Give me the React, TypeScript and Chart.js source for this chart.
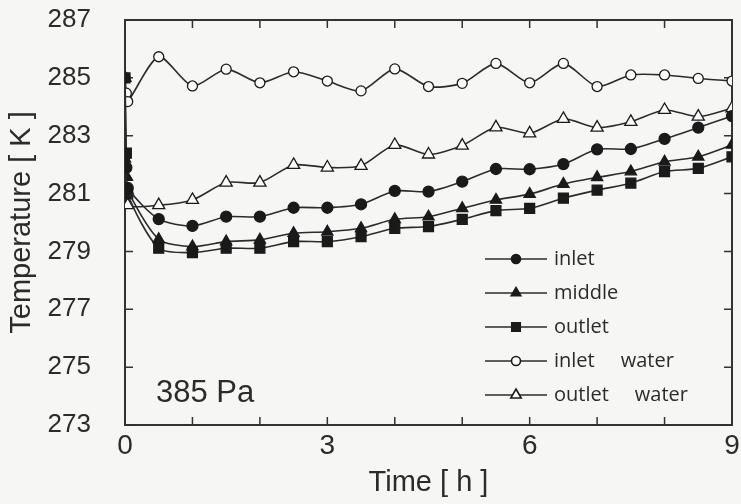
import React, { useEffect, useRef } from 'react';
import { Chart, registerables } from 'chart.js';
import { drawPoint } from 'chart.js/helpers';

Chart.register(...registerables);

// time axis [h]
const times = [0.5, 1.0, 1.5, 2.0, 2.5, 3.0, 3.5, 4.0, 4.5, 5.0, 5.5, 6.0, 6.5, 7.0, 7.5, 8.0, 8.5, 9.0];
const startTimes = [0, 0.02, 0.04];

// temperatures [K]
const inletStart = [282.3, 281.9, 281.2];
const inletValues = [280.12, 279.88, 280.2, 280.2, 280.51, 280.51, 280.63, 281.09, 281.07, 281.41, 281.85, 281.84, 282.02, 282.53, 282.54, 282.89, 283.28, 283.68];

const middleStart = [282.2, 281.6, 281.1];
const middleValues = [279.42, 279.17, 279.34, 279.4, 279.63, 279.68, 279.8, 280.11, 280.2, 280.49, 280.78, 280.98, 281.33, 281.56, 281.76, 282.1, 282.27, 282.68];

const outletStart = [285.0, 282.4, 281.0];
const outletValues = [279.11, 278.96, 279.11, 279.11, 279.34, 279.34, 279.51, 279.8, 279.86, 280.11, 280.41, 280.49, 280.84, 281.12, 281.36, 281.76, 281.87, 282.27];

const inletWaterStart = [285.0, 284.47, 284.18];
const inletWaterValues = [285.73, 284.72, 285.3, 284.83, 285.21, 284.89, 284.55, 285.31, 284.7, 284.81, 285.5, 284.83, 285.5, 284.7, 285.1, 285.1, 284.98, 284.89];

const outletWaterStart = [285.0, 281.58, 280.6];
const outletWaterValues = [280.6, 280.78, 281.38, 281.38, 281.99, 281.9, 281.96, 282.68, 282.35, 282.66, 283.29, 283.08, 283.58, 283.28, 283.48, 283.89, 283.66, 283.95];

const seriesLabels = ['inlet', 'middle', 'outlet', 'inlet     water', 'outlet     water'];
const xTickLabels = [0, 3, 6, 9];
const yTickLabels = [273, 275, 277, 279, 281, 283, 285, 287];
const annotationText = '385 Pa';

const FONT = '"Liberation Sans", Arial, sans-serif';
const LEGEND_FONT = '"Open Sans", "DejaVu Sans", sans-serif';
const INK = '#2b2b2b';
const TICK_LEN = 8;

function toPoints(start: number[], values: number[]) {
  return [
    ...startTimes.map((t, i) => ({ x: t, y: start[i] })),
    ...times.map((t, i) => ({ x: t, y: values[i] })),
  ];
}

type Marker = { style: any; radius: number; fill: string; legendRadius: number };
const markers: Marker[] = [
  { style: 'circle', radius: 5.5, fill: '#1a1a1a', legendRadius: 4.5 },
  { style: 'triangle', radius: 6.5, fill: '#1a1a1a', legendRadius: 5.5 },
  { style: 'rect', radius: 7, fill: '#1a1a1a', legendRadius: 6 },
  { style: 'circle', radius: 5, fill: '#fbfbfb', legendRadius: 4.5 },
  { style: 'triangle', radius: 7, fill: '#fbfbfb', legendRadius: 6 },
];

function makeIcon(m: Marker) {
  const c = document.createElement('canvas');
  c.width = 62;
  c.height = 18;
  const ctx = c.getContext('2d')!;
  ctx.strokeStyle = INK;
  ctx.lineWidth = 1.6;
  ctx.beginPath();
  ctx.moveTo(0, 9);
  ctx.lineTo(62, 9);
  ctx.stroke();
  ctx.fillStyle = m.fill;
  ctx.strokeStyle = '#1a1a1a';
  drawPoint(ctx, { pointStyle: m.style, rotation: 0, radius: m.legendRadius, borderWidth: 1.3 }, 31, 9);
  return c;
}

export default function App() {
  const ref = useRef<HTMLCanvasElement>(null);

  useEffect(() => {
    if (!ref.current) return;
    const allSeries = [
      toPoints(inletStart, inletValues),
      toPoints(middleStart, middleValues),
      toPoints(outletStart, outletValues),
      toPoints(inletWaterStart, inletWaterValues),
      toPoints(outletWaterStart, outletWaterValues),
    ];
    const icons = markers.map(makeIcon);

    const datasets = allSeries.map((data, i) => ({
      label: seriesLabels[i],
      data,
      borderColor: INK,
      borderWidth: 1.6,
      tension: 0.25,
      pointStyle: markers[i].style,
      pointRadius: markers[i].radius,
      pointBackgroundColor: markers[i].fill,
      pointBorderColor: '#1a1a1a',
      pointBorderWidth: 1.3,
      fill: false,
    }));

    const legendPlacer = {
      id: 'legendPlacer',
      afterLayout(chart: any) {
        const lg = chart.legend;
        if (!lg) return;
        lg.left = 474;
        lg.top = 235;
        lg.bottom = 445;
        lg.right = 741;
      },
    };

    // inward tick marks on all four sides, placed by the scales themselves
    const tickMarks = {
      id: 'tickMarks',
      beforeDatasetsDraw(chart: any) {
        const { ctx, chartArea: a } = chart;
        ctx.save();
        ctx.strokeStyle = '#333';
        ctx.lineWidth = 1.5;
        ctx.beginPath();
        const side = (id: string, fn: (p: number) => void) => {
          const s = chart.scales[id];
          if (!s) return;
          s.ticks.forEach((t: any) => fn(s.getPixelForValue(t.value)));
        };
        side('x', (p) => { ctx.moveTo(p, a.bottom); ctx.lineTo(p, a.bottom - TICK_LEN); });
        side('x2', (p) => { ctx.moveTo(p, a.top); ctx.lineTo(p, a.top + TICK_LEN); });
        side('y', (p) => { ctx.moveTo(a.left, p); ctx.lineTo(a.left + TICK_LEN, p); });
        side('y2', (p) => { ctx.moveTo(a.right, p); ctx.lineTo(a.right - TICK_LEN, p); });
        ctx.stroke();
        ctx.restore();
      },
    };

    const annotation = {
      id: 'annotation',
      afterDraw(chart: any) {
        const { ctx, chartArea } = chart;
        ctx.save();
        ctx.font = `31px ${FONT}`;
        ctx.fillStyle = INK;
        ctx.textBaseline = 'alphabetic';
        ctx.textAlign = 'left';
        ctx.fillText(annotationText, chartArea.left + 31, chartArea.bottom - 23);
        ctx.restore();
      },
    };

    const gridCommon = {
      drawOnChartArea: false,
      drawTicks: true,
      tickLength: -TICK_LEN,
      color: 'rgba(0,0,0,0)',
      tickColor: 'rgba(0,0,0,0)',
      lineWidth: 1,
    };
    const borderCommon = { display: true, color: '#333', width: 2 };

    const chart = new Chart(ref.current, {
      type: 'line',
      data: { datasets },
      plugins: [legendPlacer, tickMarks, annotation],
      options: {
        animation: false,
        responsive: false,
        maintainAspectRatio: false,
        layout: { padding: 0 },
        plugins: {
          tooltip: { enabled: false },
          legend: {
            position: 'chartArea',
            align: 'start',
            labels: {
              usePointStyle: true,
              pointStyleWidth: 56,
              boxHeight: 20,
              padding: 14,
              color: INK,
              font: { size: 20, family: LEGEND_FONT },
              generateLabels: (ch: any) =>
                ch.data.datasets.map((ds: any, i: number) => ({
                  text: ds.label,
                  pointStyle: icons[i],
                  fillStyle: INK,
                  strokeStyle: INK,
                  lineWidth: 1,
                  hidden: false,
                  datasetIndex: i,
                  fontColor: INK,
                })),
            },
          },
        },
        scales: {
          x: {
            type: 'linear',
            position: 'bottom',
            min: 0,
            max: 9,
            ticks: {
              stepSize: 1,
              autoSkip: false,
              maxRotation: 0,
              padding: 12,
              color: INK,
              font: { size: 28, family: FONT },
              callback: (v: any) => (xTickLabels.includes(Number(v)) ? String(v) : ''),
            },
            grid: gridCommon,
            border: borderCommon,
            title: {
              display: true,
              text: 'Time [ h ]',
              color: INK,
              font: { size: 29, family: FONT },
              padding: { top: 0, bottom: 4 },
            },
            afterFit: (s: any) => {
              s.height = 79;
              s.paddingLeft = 0;
              s.paddingRight = 0;
            },
          },
          x2: {
            type: 'linear',
            position: 'top',
            min: 0,
            max: 9,
            ticks: { display: false, stepSize: 1 },
            grid: gridCommon,
            border: borderCommon,
            afterFit: (s: any) => {
              s.height = 20;
              s.paddingLeft = 0;
              s.paddingRight = 0;
            },
          },
          y: {
            type: 'linear',
            position: 'left',
            min: 273,
            max: 287,
            ticks: {
              stepSize: 2,
              padding: 42,
              color: INK,
              font: { size: 26, family: FONT },
              callback: (v: any) => (yTickLabels.includes(Number(v)) ? String(v) : ''),
            },
            grid: gridCommon,
            border: borderCommon,
            title: {
              display: true,
              text: 'Temperature [ K ]',
              color: INK,
              font: { size: 29, family: FONT },
              padding: { top: 5, bottom: 0 },
            },
            afterFit: (s: any) => {
              s.width = 125;
              s.paddingTop = 0;
              s.paddingBottom = 0;
            },
          },
          y2: {
            type: 'linear',
            position: 'right',
            min: 273,
            max: 287,
            ticks: { display: false, stepSize: 2 },
            grid: gridCommon,
            border: borderCommon,
            afterFit: (s: any) => {
              s.width = 9;
              s.paddingTop = 0;
              s.paddingBottom = 0;
            },
          },
        },
      },
    } as any);

    return () => chart.destroy();
  }, []);

  return (
    <div style={{ position: 'fixed', left: 0, top: 0, width: 741, height: 504, background: '#f6f6f4', overflow: 'hidden' }}>
      <canvas ref={ref} width={741} height={504} style={{ display: 'block', width: 741, height: 504 }} />
    </div>
  );
}
